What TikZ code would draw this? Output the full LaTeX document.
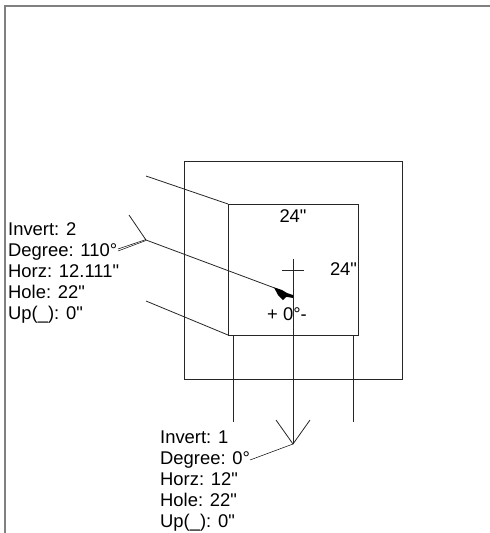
\documentclass[tikz,border=0pt]{standalone}
\usepackage{fontspec}
\setmainfont[Ligatures=TeXOff]{Liberation Sans}
\begin{document}
\begin{tikzpicture}[x=1pt,y=-1pt,
  ln/.style={line width=0.8pt,draw=black!85},
  frame/.style={line width=1.6pt,draw=black!50},
  lbl/.style={inner sep=0pt,font=\fontsize{18.4}{21}\selectfont},
  info/.style={lbl,anchor=north west,align=left}]
\useasboundingbox (0,0) rectangle (490,533);
\draw[frame] (5,533) -- (5,6) -- (490,6);
\draw[ln] (184,161) rectangle (402,379);
\draw[ln] (228,204) rectangle (358,335);
\draw[ln] (146,176) -- (228,204);
\draw[ln] (146,301) -- (228,335);
\draw[ln] (233,335) -- (233,422);
\draw[ln] (353,335) -- (353,422);
\draw[ln] (282,270) -- (304,270);
\draw[ln] (293,259) -- (293,444);
% pipe 2
\draw[ln] (129,215) -- (146,240) -- (280,290);
\draw[line width=0.5pt] (118,249) -- (146,239.5);
\draw[line width=0.5pt] (118,251) -- (146,240.5);
\fill (274,287.5) -- (282,290) -- (287,293) -- (293,295) -- (293,298) -- (286.5,296.8) -- (283,300) -- (278,295) -- cycle;
% pipe 1
\draw[ln] (276,420) -- (293,444) -- (310,420);
\draw[line width=0.5pt] (293,444) -- (250,460);
\node[lbl] (topw) at (293,216) {24"};
\node[lbl] (sidew) at (343.5,269.5) {24"};
\node[lbl] (slope) at (287,314) {+ 0°-};
\node[info] (inv2) at (8,222) {Invert: 2\\Degree: 110°\\Horz: 12.111"\\Hole: 22"\\Up(\_): 0"};
\node[info] (inv1) at (160,431) {Invert: 1\\Degree: 0°\\Horz: 12"\\Hole: 22"\\Up(\_): 0"};
\end{tikzpicture}
\end{document}
